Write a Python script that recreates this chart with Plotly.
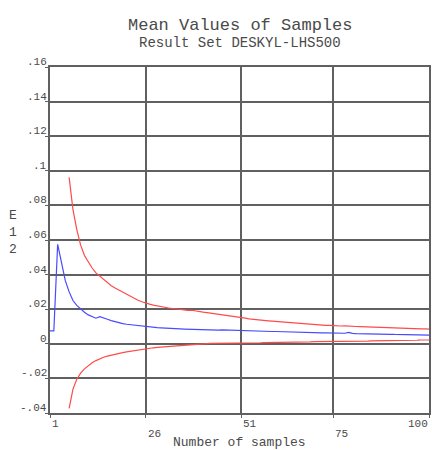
import plotly.graph_objects as go

# Running mean of E12 and its upper / lower confidence bounds vs. number of samples
samples = list(range(1, 101))

mean_e12 = [
    0.0075, 0.0075, 0.0575, 0.0470, 0.0365, 0.0300, 0.0250, 0.0222, 0.0200, 0.0182,
    0.0167, 0.0156, 0.0148, 0.0157, 0.0151, 0.0142, 0.0134, 0.0127, 0.0121, 0.0117,
    0.0113, 0.0110, 0.0107, 0.0104, 0.0101, 0.0099, 0.0097, 0.0095, 0.0093, 0.0092,
    0.0090, 0.0089, 0.0088, 0.0087, 0.0086, 0.0085, 0.0084, 0.0086, 0.0083, 0.0082,
    0.0081, 0.0081, 0.0080, 0.0080, 0.0079, 0.0080, 0.0079, 0.0078, 0.0078, 0.0077,
    0.0077, 0.0076, 0.0075, 0.0075, 0.0074, 0.0073, 0.0073, 0.0072, 0.0071, 0.0071,
    0.0070, 0.0069, 0.0068, 0.0068, 0.0067, 0.0066, 0.0066, 0.0065, 0.0065, 0.0064,
    0.0064, 0.0063, 0.0063, 0.0062, 0.0062, 0.0062, 0.0061, 0.0061, 0.0066, 0.0060,
    0.0059, 0.0059, 0.0058, 0.0058, 0.0057, 0.0057, 0.0056, 0.0056, 0.0055, 0.0055,
    0.0054, 0.0054, 0.0053, 0.0053, 0.0052, 0.0052, 0.0051, 0.0051, 0.0050, 0.0050,
]

bound_samples = list(range(6, 101))

upper_e12 = [
    0.0962, 0.0775, 0.0660, 0.0570, 0.0510,
    0.0470, 0.0438, 0.0410, 0.0392, 0.0372, 0.0352, 0.0336, 0.0322, 0.0310, 0.0298,
    0.0286, 0.0274, 0.0262, 0.0252, 0.0243, 0.0235, 0.0229, 0.0224, 0.0219, 0.0215,
    0.0211, 0.0207, 0.0204, 0.0201, 0.0198, 0.0196, 0.0193, 0.0194, 0.0189, 0.0186,
    0.0183, 0.0180, 0.0177, 0.0175, 0.0172, 0.0170, 0.0167, 0.0164, 0.0160, 0.0157,
    0.0152, 0.0148, 0.0144, 0.0141, 0.0139, 0.0137, 0.0135, 0.0133, 0.0131, 0.0129,
    0.0127, 0.0125, 0.0123, 0.0121, 0.0120, 0.0118, 0.0116, 0.0115, 0.0113, 0.0112,
    0.0110, 0.0109, 0.0107, 0.0106, 0.0104, 0.0103, 0.0103, 0.0104, 0.0104, 0.0101,
    0.0100, 0.0099, 0.0098, 0.0097, 0.0096, 0.0095, 0.0094, 0.0093, 0.0093, 0.0092,
    0.0091, 0.0090, 0.0089, 0.0089, 0.0088, 0.0087, 0.0087, 0.0086, 0.0086, 0.0085,
]

lower_e12 = [
    -0.0373, -0.0262, -0.0205, -0.0170, -0.0145,
    -0.0126, -0.0110, -0.0097, -0.0086, -0.0078, -0.0071, -0.0065, -0.0060, -0.0055, -0.0051,
    -0.0047, -0.0043, -0.0039, -0.0035, -0.0031, -0.0028, -0.0025, -0.0023, -0.0021, -0.0019,
    -0.0017, -0.0015, -0.0013, -0.0011, -0.0009, -0.0007, -0.0005, -0.0003, -0.0001, 0.0000,
    0.0001, 0.0001, 0.0002, 0.0002, 0.0002, 0.0003, 0.0003, 0.0003, 0.0003, 0.0003,
    0.0004, 0.0004, 0.0005, 0.0005, 0.0006, 0.0006, 0.0007, 0.0007, 0.0008, 0.0008,
    0.0008, 0.0009, 0.0009, 0.0010, 0.0010, 0.0010, 0.0011, 0.0011, 0.0011, 0.0012,
    0.0012, 0.0012, 0.0012, 0.0012, 0.0013, 0.0013, 0.0013, 0.0013, 0.0014, 0.0014,
    0.0015, 0.0015, 0.0016, 0.0016, 0.0017, 0.0017, 0.0018, 0.0018, 0.0019, 0.0019,
    0.0019, 0.0020, 0.0020, 0.0020, 0.0021, 0.0021, 0.0021, 0.0022, 0.0022, 0.0022,
]

x_ticks = [1, 26, 51, 75, 100]
x_tick_text = ["1", "26", "51", "75", "100"]
y_ticks = [-0.04, -0.02, 0, 0.02, 0.04, 0.06, 0.08, 0.1, 0.12, 0.14, 0.16]
y_tick_text = ["-.04", "-.02", "0", ".02", ".04", ".06", ".08", ".1", ".12", ".14", ".16"]

FONT = "Liberation Mono, Courier New, monospace"
TEXT_COLOR = "#4a4a4a"
GRID = "#606060"

fig = go.Figure()
fig.add_trace(go.Scatter(x=bound_samples, y=upper_e12, mode="lines",
                         line=dict(color="#ff4a4a", width=1.2), showlegend=False))
fig.add_trace(go.Scatter(x=bound_samples, y=lower_e12, mode="lines",
                         line=dict(color="#ff4a4a", width=1.2), showlegend=False))
fig.add_trace(go.Scatter(x=samples, y=mean_e12, mode="lines",
                         line=dict(color="#4a4aff", width=1.2), showlegend=False))

annotations = []
# y tick labels sit just above their grid lines
for v, t in zip(y_ticks, y_tick_text):
    annotations.append(dict(x=0, xref="paper", y=v, yref="y", text=t,
                            xanchor="right", yanchor="bottom", xshift=-1, yshift=-3,
                            showarrow=False, font=dict(family=FONT, size=11, color=TEXT_COLOR)))
# x tick labels, alternating rows
for i, (v, t) in enumerate(zip(x_ticks, x_tick_text)):
    anchor = "right" if v == x_ticks[-1] else "left"
    annotations.append(dict(x=v, xref="x", y=0, yref="paper", text=t,
                            xanchor=anchor, yanchor="top", xshift=0 if anchor == "left" else 1,
                            yshift=-3 if i % 2 == 0 else -13,
                            showarrow=False, font=dict(family=FONT, size=11, color=TEXT_COLOR)))
# titles
annotations.append(dict(x=0.5, xref="paper", y=1, yref="paper", yanchor="middle",
                        text="Mean Values of Samples", yshift=42,
                        showarrow=False, font=dict(family=FONT, size=17, color=TEXT_COLOR)))
annotations.append(dict(x=0.5, xref="paper", y=1, yref="paper", yanchor="middle",
                        text="Result Set DESKYL-LHS500", yshift=24,
                        showarrow=False, font=dict(family=FONT, size=14, color=TEXT_COLOR)))
annotations.append(dict(x=0.5, xref="paper", y=0, yref="paper", yanchor="top",
                        text="Number of samples", yshift=-21, borderpad=0,
                        showarrow=False, font=dict(family=FONT, size=13, color=TEXT_COLOR)))
annotations.append(dict(x=0, xref="paper", y=0.5, yref="paper", xanchor="center",
                        text="E<br>1<br>2", xshift=-37, yshift=8,
                        showarrow=False, font=dict(family=FONT, size=13, color=TEXT_COLOR)))

fig.update_layout(
    width=432, height=450,
    margin=dict(l=50, r=1, t=67, b=37),
    paper_bgcolor="white", plot_bgcolor="white",
    annotations=annotations,
    xaxis=dict(range=[1, 100], tickvals=x_ticks, showticklabels=False,
               showgrid=True, gridcolor=GRID, gridwidth=1.5, zeroline=False,
               showline=True, linecolor=GRID, linewidth=1.5, mirror=True,
               ticks="outside", ticklen=3, tickcolor=GRID),
    yaxis=dict(range=[-0.04, 0.16], tickvals=y_ticks, showticklabels=False,
               showgrid=True, gridcolor=GRID, gridwidth=1.5, zeroline=False,
               showline=True, linecolor=GRID, linewidth=1.5, mirror=True,
               ticks="outside", ticklen=3, tickcolor=GRID),
)

fig.write_html("out.html")
